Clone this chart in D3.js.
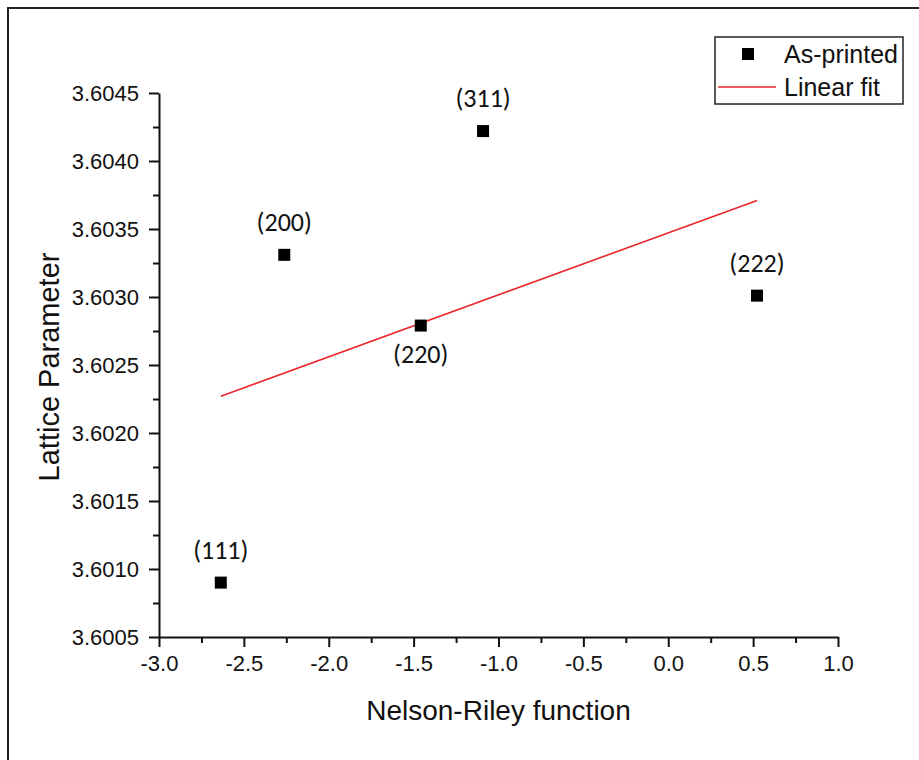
<!DOCTYPE html>
<html>
<head>
<meta charset="utf-8">
<script src="https://cdn.jsdelivr.net/npm/d3@7/dist/d3.min.js"></script>
<style>
  html, body { margin: 0; padding: 0; background: #fff; }
  svg { display: block; }
</style>
</head>
<body>
<svg id="chart" width="919" height="760"></svg>
<script>
// ---- Data ----
const planes = ["(111)", "(200)", "(220)", "(311)", "(222)"];
const nelsonRiley = [-2.636, -2.262, -1.458, -1.091, 0.523];
const latticeParam = [3.60090, 3.60331, 3.60279, 3.60422, 3.60301];
const labelSide = ["above", "above", "below", "above", "above"];
const fitX = [-2.636, 0.523];
const fitY = [3.60227, 3.60371];
const xTicks = [-3.0, -2.5, -2.0, -1.5, -1.0, -0.5, 0.0, 0.5, 1.0];
const yTicks = [3.6005, 3.6010, 3.6015, 3.6020, 3.6025, 3.6030, 3.6035, 3.6040, 3.6045];
const legendLabels = ["As-printed", "Linear fit"];

// ---- Layout ----
const svg = d3.select("#chart");
const mLeft = 159, mRight = 838, mTop = 93, mBottom = 637;
const x = d3.scaleLinear().domain([-3, 1]).range([mLeft, mRight]);
const y = d3.scaleLinear().domain([3.6005, 3.6045]).range([mBottom, mTop]);
const arial = "'Liberation Sans', Arial, sans-serif";
const calibri = "Carlito, Calibri, 'Open Sans', sans-serif";

// outer frame
svg.append("rect").attr("x", 8).attr("y", 8).attr("width", 1000).attr("height", 1000)
  .attr("fill", "none").attr("stroke", "#222").attr("stroke-width", 2);

// minor ticks
const xMinor = d3.range(0, xTicks.length - 1).map(i => (xTicks[i] + xTicks[i + 1]) / 2);
const yMinor = d3.range(0, yTicks.length - 1).map(i => (yTicks[i] + yTicks[i + 1]) / 2);

// x axis
const gx = svg.append("g").attr("transform", `translate(0,${mBottom})`)
  .call(d3.axisBottom(x).tickValues(xTicks).tickFormat(d => d3.format(".1f")(d).replace("−", "-"))
    .tickSizeInner(10).tickSizeOuter(0).tickPadding(8));
gx.append("g").call(d3.axisBottom(x).tickValues(xMinor).tickFormat("").tickSizeInner(6).tickSizeOuter(0))
  .select(".domain").remove();
gx.selectAll("text").attr("font-family", arial).attr("font-size", 22).attr("fill", "#111");

// y axis
const gy = svg.append("g").attr("transform", `translate(${mLeft},0)`)
  .call(d3.axisLeft(y).tickValues(yTicks).tickFormat(d3.format(".4f")).tickSizeInner(10).tickSizeOuter(0).tickPadding(10));
gy.append("g").call(d3.axisLeft(y).tickValues(yMinor).tickFormat("").tickSizeInner(6).tickSizeOuter(0))
  .select(".domain").remove();
gy.selectAll("text").attr("font-family", arial).attr("font-size", 22).attr("fill", "#111");

svg.selectAll(".domain, .tick line").attr("stroke", "#111").attr("stroke-width", 2);

// axis titles
svg.append("text").attr("x", (mLeft + mRight) / 2).attr("y", 720)
  .attr("text-anchor", "middle").attr("font-family", arial).attr("font-size", 28).attr("fill", "#111")
  .text("Nelson-Riley function");
svg.append("text").attr("transform", `translate(59,${(mTop + mBottom) / 2 + 2}) rotate(-90)`)
  .attr("text-anchor", "middle").attr("font-family", arial).attr("font-size", 29).attr("fill", "#111")
  .text("Lattice Parameter");

// fit line
svg.append("line")
  .attr("x1", x(fitX[0])).attr("y1", y(fitY[0]))
  .attr("x2", x(fitX[1])).attr("y2", y(fitY[1]))
  .attr("stroke", "#e8262b").attr("stroke-width", 1.6);

// points
const pts = planes.map((p, i) => ({ p, x: nelsonRiley[i], y: latticeParam[i], side: labelSide[i] }));
const sz = 12;
svg.selectAll("rect.pt").data(pts).enter().append("rect").attr("class", "pt")
  .attr("x", d => x(d.x) - sz / 2).attr("y", d => y(d.y) - sz / 2)
  .attr("width", sz).attr("height", sz).attr("fill", "#000");

svg.selectAll("text.lbl").data(pts).enter().append("text").attr("class", "lbl")
  .attr("x", d => x(d.x)).attr("y", d => y(d.y) + (d.side === "above" ? -33 : 28))
  .attr("dy", "0.35em")
  .attr("text-anchor", "middle").attr("font-family", calibri).attr("font-size", 26).attr("fill", "#111")
  .text(d => d.p);

// legend
const lg = svg.append("g");
lg.append("rect").attr("x", 715).attr("y", 37).attr("width", 188).attr("height", 67)
  .attr("fill", "#fff").attr("stroke", "#222").attr("stroke-width", 1.5);
lg.append("rect").attr("x", 748 - 6).attr("y", 54 - 6).attr("width", 12).attr("height", 12).attr("fill", "#000");
lg.append("line").attr("x1", 718).attr("x2", 776).attr("y1", 87).attr("y2", 87)
  .attr("stroke", "#e8262b").attr("stroke-width", 1.6);
lg.selectAll("text").data(legendLabels).enter().append("text")
  .attr("x", 784).attr("y", (d, i) => 54 + i * 33).attr("dy", "0.35em")
  .attr("font-family", arial).attr("font-size", 25).attr("fill", "#111")
  .text(d => d);
</script>
</body>
</html>
